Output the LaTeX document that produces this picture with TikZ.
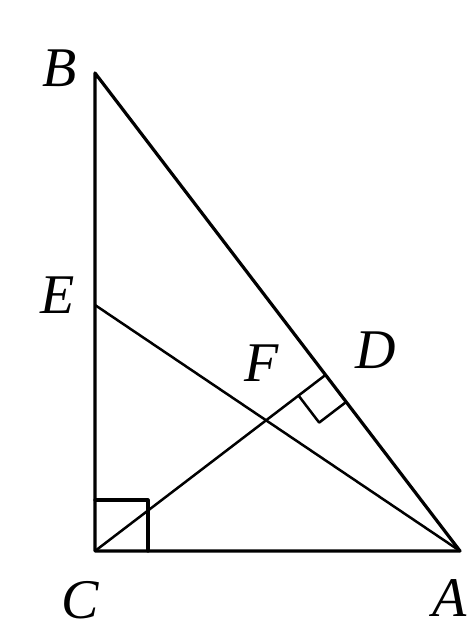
\documentclass[tikz,border=0pt]{standalone}
\usepackage{fontspec}
\setmainfont{Liberation Serif}
\usetikzlibrary{calc,intersections}
\begin{document}
\begin{tikzpicture}[x=1pt,y=1pt,
  seg/.style={line width=3.2pt,line cap=round,line join=round},
  thin seg/.style={line width=2.5pt,line cap=round,line join=round},
  lab/.style={font=\fontsize{56}{60}\selectfont\itshape,inner sep=0pt}]
\useasboundingbox (0,0) rectangle (474,-637);
\coordinate (B) at (95,-73);
\coordinate (C) at (95,-551);
\coordinate (A) at (460,-551);
\coordinate (E) at (95,-305);
\coordinate (D) at ($(B)!(C)!(A)$);
\path[name path=ea] (E) -- (A);
\path[name path=cd] (C) -- (D);
\path[name intersections={of=ea and cd,by=F}];
\draw[seg] (B) -- (C) -- (A) -- cycle;
\draw[thin seg] (E) -- (A);
\draw[thin seg] (C) -- (D);
\draw[seg] ($(C)+(0,51)$) -- ++(53,0) -- ++(0,-51);
\coordinate (P) at ($(D)!34pt!(C)$);
\coordinate (Q) at ($(D)!34pt!(A)$);
\draw[thin seg] (P) -- ($(P)+(Q)-(D)$) -- (Q);
\node[lab] (lB) at (60,-68) {B};
\node[lab] (lE) at (58,-295) {E};
\node[lab] (lF) at (262,-363) {F};
\node[lab] (lD) at (376,-350) {D};
\node[lab] (lC) at (80,-600) {C};
\node[lab] (lA) at (450,-598) {A};
\end{tikzpicture}
\end{document}
